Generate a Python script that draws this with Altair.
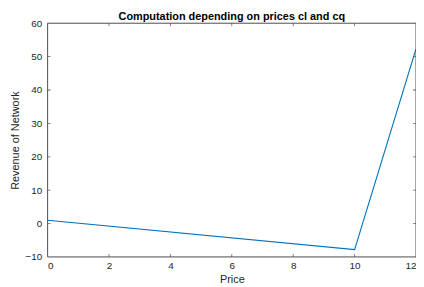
import altair as alt
import pandas as pd

price = [0, 10, 12]
revenue = [1.0, -7.8, 52.3]
x_ticks = [0, 2, 4, 6, 8, 10, 12]
y_ticks = [-10, 0, 10, 20, 30, 40, 50, 60]

df = pd.DataFrame({"Price": price, "Revenue": revenue})
W, H = 372, 236

xs = alt.Scale(domain=[0, 12], nice=False)
ys = alt.Scale(domain=[-10, 60], nice=False)
x_axis = alt.Axis(values=x_ticks, tickSize=0, labelPadding=4, domain=False, grid=False,
                  labelOverlap=False, titlePadding=3)
y_axis = alt.Axis(values=y_ticks, tickSize=0, labelPadding=6, domain=False, grid=False,
                  labelOverlap=False, titlePadding=4)

line = alt.Chart(df).mark_line(color="#0072BD", strokeWidth=1.1).encode(
    x=alt.X("Price:Q", scale=xs, title="Price", axis=x_axis),
    y=alt.Y("Revenue:Q", scale=ys, title="Revenue of Network", axis=y_axis),
)

frame = alt.Chart(pd.DataFrame({"a": [0]})).mark_rect(
    fill=None, stroke="#4d4d4d", strokeWidth=1
).encode(x=alt.value(0), x2=alt.value(W), y=alt.value(0), y2=alt.value(H))

xt = pd.DataFrame({"v": x_ticks[1:-1]})
yt = pd.DataFrame({"v": y_ticks[1:-1]})
tick_style = dict(color="#262626", thickness=0.8, size=6, clip=True)
xb = alt.Chart(xt).mark_tick(orient="vertical", **tick_style).encode(
    x=alt.X("v:Q", scale=xs, title="Price", axis=x_axis), y=alt.value(H))
xtp = alt.Chart(xt).mark_tick(orient="vertical", **tick_style).encode(
    x=alt.X("v:Q", scale=xs, title="Price", axis=x_axis), y=alt.value(0))
yl = alt.Chart(yt).mark_tick(orient="horizontal", **tick_style).encode(
    y=alt.Y("v:Q", scale=ys, title="Revenue of Network", axis=y_axis), x=alt.value(0))
yr = alt.Chart(yt).mark_tick(orient="horizontal", **tick_style).encode(
    y=alt.Y("v:Q", scale=ys, title="Revenue of Network", axis=y_axis), x=alt.value(W))

chart = alt.layer(line, xb, xtp, yl, yr, frame).properties(
    width=W, height=H,
    title=alt.TitleParams("Computation depending on prices cl and cq", fontSize=11,
                          fontWeight="bold", font="Liberation Sans", color="#000000", offset=-4),
    autosize=alt.AutoSizeParams(type="none"),
    padding={"left": 40, "top": 14, "right": 0, "bottom": 30},
    background="white",
).configure_view(stroke=None).configure_axis(
    labelFont="Liberation Sans", titleFont="Liberation Sans", labelFontSize=10,
    titleFontSize=11, titleFontWeight="normal", labelColor="#262626", titleColor="#262626",
)

chart.save("out.html", embed_options={"renderer": "svg", "actions": False})
